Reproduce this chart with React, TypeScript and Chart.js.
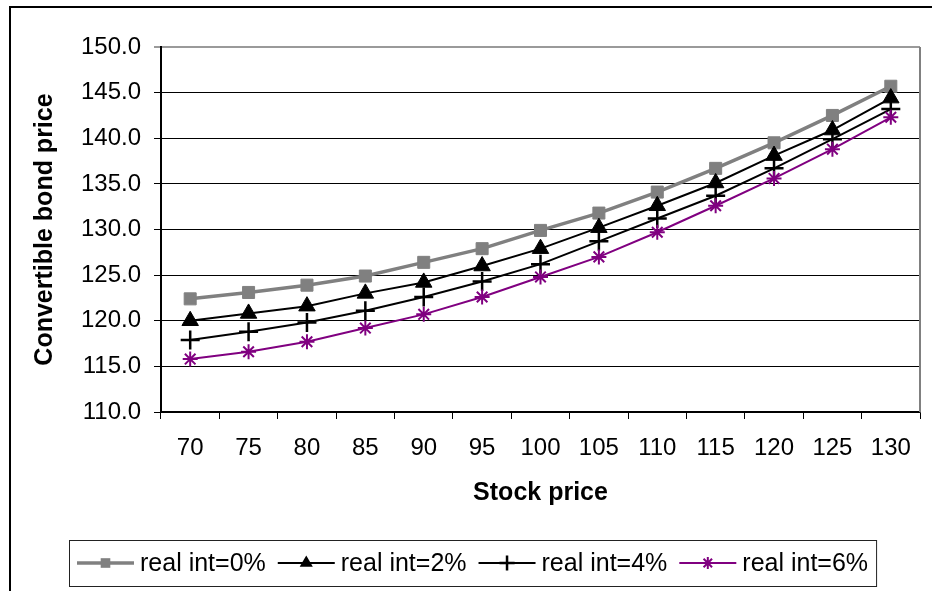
import React, { useEffect, useRef } from 'react';
import { Chart, registerables } from 'chart.js';

Chart.register(...registerables);

const stockPrices = ['70', '75', '80', '85', '90', '95', '100', '105', '110', '115', '120', '125', '130'];
const seriesNames = ['real int=0%', 'real int=2%', 'real int=4%', 'real int=6%'];
const realInt0 = [122.4, 123.1, 123.9, 124.9, 126.4, 127.9, 129.9, 131.8, 134.1, 136.7, 139.5, 142.5, 145.7];
const realInt2 = [120.0, 120.8, 121.6, 123.0, 124.2, 126.0, 127.9, 130.2, 132.6, 135.1, 138.1, 140.9, 144.4];
const realInt4 = [117.9, 118.8, 119.8, 121.1, 122.6, 124.3, 126.2, 128.7, 131.2, 133.7, 136.7, 139.9, 143.2];
const realInt6 = [115.8, 116.6, 117.7, 119.2, 120.7, 122.6, 124.8, 127.0, 129.7, 132.6, 135.6, 138.8, 142.3];
const yMin = 110;
const yMax = 150;
const yStep = 5;
const xTitle = 'Stock price';
const yTitle = 'Convertible bond price';

const FONT = '"Liberation Sans", Arial, Helvetica, sans-serif';

type Style = { color: string; line: number; point: string; radius: number; pointWidth: number };
const styles: Style[] = [
  { color: '#808080', line: 3.5, point: 'rect', radius: 8.5, pointWidth: 1 },
  { color: '#000000', line: 2, point: 'triangle', radius: 9.5, pointWidth: 1 },
  { color: '#000000', line: 2, point: 'cross', radius: 9.5, pointWidth: 2.5 },
  { color: '#800080', line: 2, point: 'star', radius: 7.5, pointWidth: 2 },
];

function drawMarker(ctx: CanvasRenderingContext2D, s: Style, x: number, y: number) {
  const r = s.radius;
  ctx.save();
  ctx.fillStyle = s.color;
  ctx.strokeStyle = s.color;
  ctx.lineWidth = s.pointWidth;
  ctx.beginPath();
  if (s.point === 'rect') {
    const h = Math.SQRT1_2 * r;
    ctx.rect(x - h, y - h, 2 * h, 2 * h);
    ctx.fill();
  } else if (s.point === 'triangle') {
    ctx.moveTo(x, y - r);
    ctx.lineTo(x + r * 0.866, y + r * 0.5);
    ctx.lineTo(x - r * 0.866, y + r * 0.5);
    ctx.closePath();
    ctx.fill();
  } else if (s.point === 'cross') {
    ctx.moveTo(x, y - r);
    ctx.lineTo(x, y + r);
    ctx.moveTo(x - r, y);
    ctx.lineTo(x + r, y);
    ctx.stroke();
  } else {
    ctx.moveTo(x, y - r);
    ctx.lineTo(x, y + r);
    ctx.moveTo(x - r, y);
    ctx.lineTo(x + r, y);
    const d = r * Math.SQRT1_2;
    ctx.moveTo(x - d, y - d);
    ctx.lineTo(x + d, y + d);
    ctx.moveTo(x - d, y + d);
    ctx.lineTo(x + d, y - d);
    ctx.stroke();
  }
  ctx.restore();
}

const framePlugin = {
  id: 'frame',
  beforeDatasetsDraw(chart: any) {
    const { ctx, chartArea } = chart;
    ctx.save();
    ctx.strokeStyle = '#808080';
    ctx.lineWidth = 2;
    ctx.beginPath();
    ctx.moveTo(chartArea.right, chartArea.top);
    ctx.lineTo(chartArea.right, chartArea.bottom);
    ctx.stroke();
    ctx.restore();
  },
  afterDraw(chart: any) {
    const { ctx } = chart;
    ctx.save();
    // outer frame (clipped at right/bottom)
    ctx.strokeStyle = '#000';
    ctx.lineWidth = 2;
    ctx.beginPath();
    ctx.moveTo(10, chart.height + 2);
    ctx.lineTo(10, 7);
    ctx.lineTo(chart.width + 2, 7);
    ctx.stroke();

    // legend
    ctx.font = `25px ${FONT}`;
    ctx.textBaseline = 'middle';
    ctx.textAlign = 'left';
    const cy = 563;
    let x = 77;
    const sample = 57;
    seriesNames.forEach((name, i) => {
      const s = styles[i];
      ctx.strokeStyle = s.color;
      ctx.lineWidth = s.line;
      ctx.beginPath();
      ctx.moveTo(x, cy);
      ctx.lineTo(x + sample, cy);
      ctx.stroke();
      drawMarker(ctx, { ...s, radius: s.radius * 0.8 }, x + sample / 2, cy);
      ctx.fillStyle = '#000';
      ctx.fillText(name, x + sample + 6, cy + 1);
      const w = ctx.measureText(name).width;
      x += sample + 6 + w + (i < seriesNames.length - 1 ? 12 : 8);
    });
    ctx.strokeStyle = '#222';
    ctx.lineWidth = 1;
    ctx.strokeRect(69.5, 540.5, x - 69, 46);
    ctx.restore();
  },
};

export default function App() {
  const ref = useRef<HTMLCanvasElement>(null);
  useEffect(() => {
    if (!ref.current) return;
    const data = [realInt0, realInt2, realInt4, realInt6];
    const chart = new Chart(ref.current, {
      type: 'line',
      data: {
        labels: stockPrices,
        datasets: data.map((d, i) => ({
          label: seriesNames[i],
          data: d,
          borderColor: styles[i].color,
          backgroundColor: styles[i].color,
          borderWidth: styles[i].line,
          pointStyle: styles[i].point as any,
          pointRadius: styles[i].radius,
          pointBorderWidth: styles[i].pointWidth,
          pointBackgroundColor: styles[i].color,
          pointBorderColor: styles[i].color,
          tension: 0,
          fill: false,
          order: 3 - i,
        })),
      },
      options: {
        animation: false,
        responsive: false,
        events: [],
        layout: { padding: { left: 0, top: 47, right: 8, bottom: 80 } },
        plugins: { legend: { display: false }, tooltip: { enabled: false } },
        scales: {
          x: {
            type: 'category',
            offset: true,
            grid: {
              offset: true,
              drawOnChartArea: false,
              drawTicks: true,
              tickLength: 7,
              color: '#000',
              lineWidth: 1,
            },
            border: { display: true, color: '#000', width: 1.5 },
            ticks: { color: '#000', font: { family: FONT, size: 24 }, padding: 14.6, maxRotation: 0, autoSkip: false },
            title: {
              display: true,
              text: xTitle,
              color: '#000',
              font: { family: FONT, size: 25, weight: 'bold' },
              padding: { top: 0, bottom: 3 },
            },
            afterFit: (scale: any) => {
              scale.height = 99;
            },
          },
          y: {
            min: yMin,
            max: yMax,
            grid: {
              color: (c: any) => (c.tick && c.tick.value === yMax ? '#9a9a9a' : '#000'),
              lineWidth: (c: any) => (c.tick && c.tick.value === yMax ? 2 : 1),
              drawTicks: true,
              tickLength: 7,
            },
            border: { display: true, color: '#000', width: 2 },
            ticks: {
              stepSize: yStep,
              color: '#000',
              font: { family: FONT, size: 24 },
              padding: 13,
              callback: (v: any) => Number(v).toFixed(1),
            },
            title: {
              display: true,
              text: yTitle,
              color: '#000',
              font: { family: FONT, size: 25, weight: 'bold' },
              padding: { top: 30, bottom: 0 },
            },
            afterFit: (scale: any) => {
              scale.width = 161;
            },
          },
        },
      },
      plugins: [framePlugin],
    });
    return () => chart.destroy();
  }, []);
  return (
    <div style={{ position: 'fixed', left: 0, top: 0, width: 932, height: 591, background: '#fff' }}>
      <canvas ref={ref} width={932} height={591} style={{ display: 'block' }} />
    </div>
  );
}
